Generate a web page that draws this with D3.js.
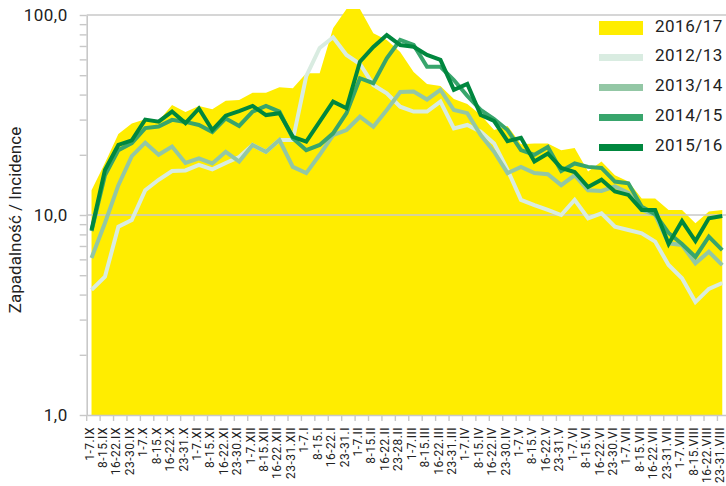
<!DOCTYPE html>
<html lang="pl">
<head>
<meta charset="utf-8">
<title>Zapadalność / Incidence</title>
<style>
	html, body { margin: 0; padding: 0; background: #fff; }
	svg { display: block; font-family: Roboto, "Liberation Sans", sans-serif; }
</style>
</head>
<body>
<script src="https://cdn.jsdelivr.net/npm/d3@7"></script>
<script>

const weeks = [
	"1-7.IX", "8-15.IX", "16-22.IX", "23-30.IX",
	"1-7.X", "8-15.X", "16-22.X", "23-31.X",
	"1-7.XI", "8-15.XI", "16-22.XI", "23-30.XI",
	"1-7.XII", "8-15.XII", "16-22.XII", "23-31.XII",
	"1-7.I", "8-15.I", "16-22.I", "23-31.I",
	"1-7.II", "8-15.II", "16-22.II", "23-28.II",
	"1-7.III", "8-15.III", "16-22.III", "23-31.III",
	"1-7.IV", "8-15.IV", "16-22.IV", "23-30.IV",
	"1-7.V", "8-15.V", "16-22.V", "23-31.V",
	"1-7.VI", "8-15.VI", "16-22.VI", "23-30.VI",
	"1-7.VII", "8-15.VII", "16-22.VII", "23-31.VII",
	"1-7.VIII", "8-15.VIII", "16-22.VIII", "23-31.VIII"
];

// 2016/17 (area)
const s1617 = [13.3, 18.2, 25.4, 28.7, 30.1, 29.5, 35.5, 32.7, 35.1, 33.8, 37.3, 37.6,
	40.9, 40.9, 43.5, 43.0, 51.1, 51.1, 85.8, 107, 107, 81.0, 75.0, 65.3,
	51.9, 45.2, 44.2, 38.0, 35.9, 31.6, 26.6, 27.9, 22.6, 22.8, 22.8, 21.1,
	21.6, 16.5, 18.5, 15.8, 14.7, 12.1, 12.1, 10.6, 10.6, 9.09, 10.4, 10.6];

const s1213 = [4.22, 4.91, 8.74, 9.44, 13.3, 15.0, 16.6, 16.7, 17.8, 16.9, 18.2, 19.5,
	22.4, 20.7, 23.7, 23.7, 49.5, 68.4, 77.4, 63.1, 56.9, 44.7, 40.6, 34.8,
	32.9, 32.9, 36.9, 27.1, 28.2, 26.1, 22.8, 16.8, 11.9, 11.2, 10.6, 10.0,
	11.9, 9.63, 10.2, 8.74, 8.41, 8.10, 7.36, 5.62, 4.83, 3.67, 4.27, 4.57];

const s1314 = [6.10, 9.12, 14.1, 19.7, 23.0, 20.0, 22.0, 18.2, 19.2, 18.1, 20.7, 18.5,
	22.4, 20.7, 23.7, 17.4, 16.2, 20.0, 25.1, 26.6, 31.0, 27.6, 33.5, 41.2,
	41.4, 37.8, 42.2, 33.5, 32.3, 25.1, 20.7, 16.2, 17.4, 16.2, 16.0, 14.1,
	15.8, 13.3, 13.2, 13.9, 12.9, 10.6, 10.0, 7.22, 7.08, 5.73, 6.55, 5.62];

const s1415 = [8.32, 15.8, 21.1, 22.9, 27.2, 27.7, 29.9, 29.2, 28.2, 26.0, 30.4, 27.9,
	32.9, 35.1, 32.9, 24.2, 21.1, 22.4, 25.6, 32.3, 48.3, 45.6, 60.8, 75.0,
	70.8, 55.1, 55.1, 47.3, 39.4, 33.5, 30.2, 26.6, 21.1, 20.0, 21.9, 16.6,
	18.1, 17.4, 17.2, 14.7, 14.4, 11.0, 10.1, 8.13, 7.16, 6.17, 7.79, 6.68];

const s1516 = [8.41, 16.8, 22.4, 23.6, 30.0, 29.3, 32.9, 28.8, 34.1, 26.6, 31.4, 33.1,
	35.1, 31.6, 32.3, 24.6, 23.3, 29.3, 36.9, 34.2, 58.4, 69.2, 79.4, 70.8,
	69.4, 63.1, 59.6, 42.2, 45.2, 31.6, 29.5, 23.4, 24.3, 18.5, 20.3, 17.2,
	16.4, 13.8, 15.0, 13.1, 12.6, 10.6, 10.6, 7.16, 9.33, 7.41, 9.63, 9.89];

const lineSeries = [
	{ name: "2012/13", values: s1213, color: "#d9ece1" },
	{ name: "2013/14", values: s1314, color: "#93c7a5" },
	{ name: "2014/15", values: s1415, color: "#38a56c" },
	{ name: "2015/16", values: s1516, color: "#00873e" }
];
const areaName = "2016/17";
const areaColor = "#ffed00";
const gridColor = "#c8c8c8";

const width = 726;
const height = 486;

const svg = d3.select("body")
	.append("svg")
	.attr("width", width)
	.attr("height", height);

const x = d3.scaleBand()
	.domain(weeks)
	.range([86.7, 86.7 + weeks.length * 13.42]);
const px = (i) => x(weeks[i]) + x.bandwidth() * 0.36;

const y = d3.scaleLog()
	.domain([1, 100])
	.range([415, 15]);

// top grid line sits under the area
svg.append("line")
	.attr("x1", 86.7).attr("x2", width)
	.attr("y1", y(100)).attr("y2", y(100))
	.attr("stroke", gridColor)
	.attr("stroke-width", 1.6);

const area = d3.area()
	.x((d, i) => px(i))
	.y0(y(1))
	.y1((d) => y(d));

svg.append("path")
	.datum(s1617)
	.attr("fill", areaColor)
	.attr("d", area);

svg.append("line")
	.attr("x1", 86.7).attr("x2", width)
	.attr("y1", y(10)).attr("y2", y(10))
	.attr("stroke", gridColor)
	.attr("stroke-width", 1.4);

// y axis
const gy = svg.append("g")
	.attr("transform", "translate(86.7,0)")
	.call(d3.axisLeft(y)
		.tickValues(y.ticks())
		.tickSize(7)
		.tickSizeOuter(0)
		.tickPadding(12)
		.tickFormat((d) => [1, 10, 100].includes(d) ? d3.format(".1f")(d).replace(".", ",") : ""));
gy.select(".domain").attr("stroke", gridColor).attr("stroke-width", 1.6);
gy.selectAll(".tick line").attr("stroke", gridColor).attr("stroke-width", 1.4);
gy.selectAll(".tick text")
	.attr("font-family", null)
	.attr("font-size", 17)
	.attr("letter-spacing", "0.5px")
	.attr("fill", "#222");

// x axis
const gx = svg.append("g")
	.attr("transform", "translate(0,415)")
	.call(d3.axisBottom(x).tickSize(6).tickSizeOuter(0));
gx.select(".domain").attr("stroke", gridColor).attr("stroke-width", 1.6);
gx.selectAll(".tick line")
	.attr("x1", -x.bandwidth() / 2)
	.attr("x2", -x.bandwidth() / 2)
	.attr("stroke", gridColor)
	.attr("stroke-width", 1.4);
gx.selectAll(".tick text")
	.attr("transform", "rotate(-90)")
	.attr("text-anchor", "end")
	.attr("x", -12)
	.attr("y", -4)
	.attr("dy", "0.35em")
	.attr("font-size", 12)
	.attr("letter-spacing", "0.5px")
	.attr("fill", "#222");
gx.attr("font-family", null);
gy.attr("font-family", null);

// lines
const line = d3.line()
	.x((d, i) => px(i))
	.y((d) => y(d));

svg.append("g")
	.attr("fill", "none")
	.attr("stroke-width", 4)
	.selectAll("path")
	.data(lineSeries)
	.join("path")
	.attr("stroke", (d) => d.color)
	.attr("d", (d) => line(d.values));

// y title
svg.append("text")
	.attr("transform", "translate(21,220) rotate(-90)")
	.attr("text-anchor", "middle")
	.attr("font-size", 17)
	.attr("fill", "#222")
	.text("Zapadalność / Incidence");

// legend
const legend = svg.append("g").attr("font-size", 17).attr("letter-spacing", "0.5px").attr("fill", "#222");
legend.append("rect")
	.attr("x", 599).attr("y", 21)
	.attr("width", 44).attr("height", 14)
	.attr("fill", areaColor);
legend.append("text")
	.attr("x", 655).attr("y", 28 + 3.5)
	.text(areaName);

lineSeries.forEach((s, i) => {
	const cy = 57.5 + i * 30;
	legend.append("line")
		.attr("x1", 599).attr("x2", 643)
		.attr("y1", cy).attr("y2", cy)
		.attr("stroke", s.color)
		.attr("stroke-width", 7);
	legend.append("text")
		.attr("x", 655).attr("y", cy + 3.5)
		.text(s.name);
});

</script>
</body>
</html>
